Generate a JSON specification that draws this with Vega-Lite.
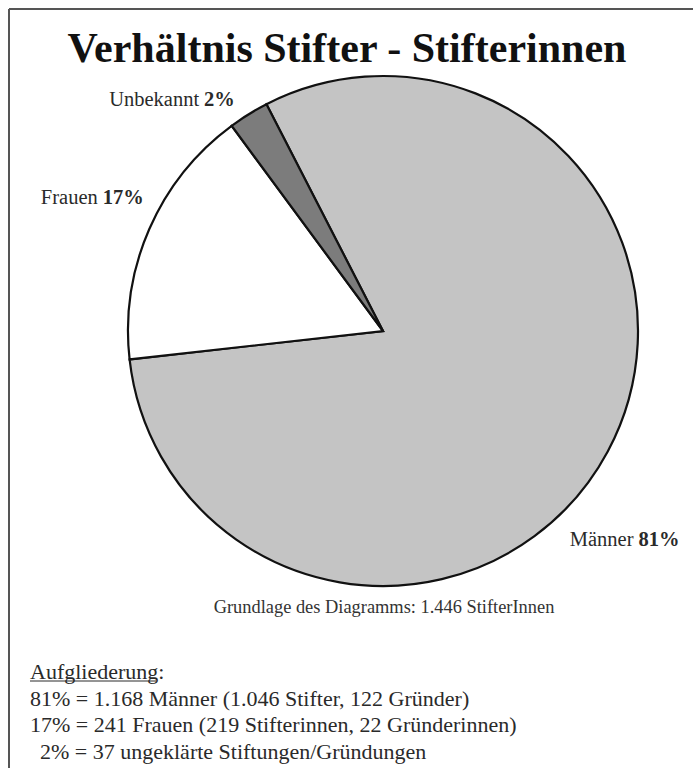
{
  "$schema": "https://vega.github.io/schema/vega-lite/v6.json",
  "width": 510,
  "height": 510,
  "autosize": {"type": "none"},
  "padding": {"left": 128, "top": 76, "right": 55, "bottom": 182},
  "background": "#ffffff",
  "config": {"view": {"stroke": null}},
  "title": {
    "text": "Verhältnis Stifter - Stifterinnen",
    "font": "Liberation Serif",
    "fontSize": 42,
    "fontWeight": "bold",
    "color": "#111111",
    "anchor": "middle",
    "frame": "group",
    "dx": -36,
    "offset": -63
  },
  "data": {
    "values": [
      {"gruppe": "Männer", "anzahl": 1168, "pct": "81%", "rang": 1},
      {"gruppe": "Frauen", "anzahl": 241, "pct": "17%", "rang": 2},
      {"gruppe": "Unbekannt", "anzahl": 37, "pct": "2%", "rang": 3}
    ]
  },
  "encoding": {
    "theta": {"field": "anzahl", "type": "quantitative", "stack": true, "scale": {"range": [-0.4747, 5.8085]}},
    "order": {"field": "rang", "type": "quantitative"}
  },
  "layer": [
    {
      "mark": {"type": "arc", "radius": 255, "stroke": "#111111", "strokeWidth": 2.2},
      "encoding": {
        "color": {"field": "gruppe", "type": "nominal", "legend": null,
          "scale": {"domain": ["Männer", "Frauen", "Unbekannt"], "range": ["#c4c4c4", "#ffffff", "#7c7c7c"]}}
      }
    },
    {
      "mark": {"type": "text", "radius": 328, "thetaOffset": 0.2, "align": "right", "dx": -2, "baseline": "middle", "font": "Liberation Serif", "fontSize": 20.5, "color": "#2a2a2a"},
      "encoding": {"detail": {"field": "gruppe"}, "text": {"condition": {"test": "datum.gruppe === 'Männer'", "field": "gruppe"}, "value": ""}}
    },
    {
      "mark": {"type": "text", "radius": 328, "thetaOffset": 0.2, "align": "left", "dx": 3, "baseline": "middle", "font": "Liberation Serif", "fontSize": 20.5, "fontWeight": "bold", "color": "#2a2a2a"},
      "encoding": {"detail": {"field": "gruppe"}, "text": {"condition": {"test": "datum.gruppe === 'Männer'", "field": "pct"}, "value": ""}}
    },
    {
      "mark": {"type": "text", "radius": 313, "thetaOffset": 0.028, "align": "right", "dx": -2, "baseline": "middle", "font": "Liberation Serif", "fontSize": 20.5, "color": "#2a2a2a"},
      "encoding": {"detail": {"field": "gruppe"}, "text": {"condition": {"test": "datum.gruppe === 'Frauen'", "field": "gruppe"}, "value": ""}}
    },
    {
      "mark": {"type": "text", "radius": 313, "thetaOffset": 0.028, "align": "left", "dx": 3, "baseline": "middle", "font": "Liberation Serif", "fontSize": 20.5, "fontWeight": "bold", "color": "#2a2a2a"},
      "encoding": {"detail": {"field": "gruppe"}, "text": {"condition": {"test": "datum.gruppe === 'Frauen'", "field": "pct"}, "value": ""}}
    },
    {
      "mark": {"type": "text", "radius": 294, "thetaOffset": -0.112, "align": "right", "dx": -2, "baseline": "middle", "font": "Liberation Serif", "fontSize": 20.5, "color": "#2a2a2a"},
      "encoding": {"detail": {"field": "gruppe"}, "text": {"condition": {"test": "datum.gruppe === 'Unbekannt'", "field": "gruppe"}, "value": ""}}
    },
    {
      "mark": {"type": "text", "radius": 294, "thetaOffset": -0.112, "align": "left", "dx": 3, "baseline": "middle", "font": "Liberation Serif", "fontSize": 20.5, "fontWeight": "bold", "color": "#2a2a2a"},
      "encoding": {"detail": {"field": "gruppe"}, "text": {"condition": {"test": "datum.gruppe === 'Unbekannt'", "field": "pct"}, "value": ""}}
    },
    {
      "data": {"values": [{"notiz": "Grundlage des Diagramms: 1.446 StifterInnen"}]},
      "mark": {"type": "text", "align": "center", "baseline": "middle", "font": "Liberation Serif", "fontSize": 18.4, "color": "#333333"},
      "encoding": {"text": {"field": "notiz"}, "x": {"value": 256}, "y": {"value": 531}, "theta": null, "order": null}
    },
    {
      "data": {"values": [
        {"zeile": 1, "inhalt": "Aufgliederung:"},
        {"zeile": 2, "inhalt": "81% = 1.168 Männer (1.046 Stifter, 122 Gründer)"},
        {"zeile": 3, "inhalt": "17% = 241 Frauen (219 Stifterinnen, 22 Gründerinnen)"}
      ]},
      "mark": {"type": "text", "align": "left", "baseline": "middle", "font": "Liberation Serif", "fontSize": 22, "color": "#2a2a2a"},
      "encoding": {
        "text": {"field": "inhalt"},
        "x": {"value": -98},
        "y": {"field": "zeile", "type": "quantitative", "scale": {"domain": [1, 4], "range": [596, 676]}, "axis": null},
        "theta": null, "order": null
      }
    },
    {
      "data": {"values": [{"zeile": 4, "inhalt": "2% = 37 ungeklärte Stiftungen/Gründungen"}]},
      "mark": {"type": "text", "align": "left", "baseline": "middle", "font": "Liberation Serif", "fontSize": 22, "color": "#2a2a2a"},
      "encoding": {
        "text": {"field": "inhalt"},
        "x": {"value": -88},
        "y": {"field": "zeile", "type": "quantitative"},
        "theta": null, "order": null
      }
    },
    {
      "data": {"values": [{"a": 1}]},
      "mark": {"type": "rule", "color": "#2a2a2a", "strokeWidth": 1},
      "encoding": {"x": {"value": -98}, "x2": {"value": 28}, "y": {"value": 605}, "theta": null, "order": null}
    },
    {
      "data": {"values": [{"a": 1}]},
      "mark": {"type": "rule", "color": "#555555", "strokeWidth": 2},
      "encoding": {"x": {"value": -119}, "y": {"value": -67}, "y2": {"value": 700}, "theta": null, "order": null}
    },
    {
      "data": {"values": [{"a": 1}]},
      "mark": {"type": "rule", "color": "#555555", "strokeWidth": 2},
      "encoding": {"x": {"value": -119}, "x2": {"value": 565}, "y": {"value": -67}, "theta": null, "order": null}
    }
  ]
}
